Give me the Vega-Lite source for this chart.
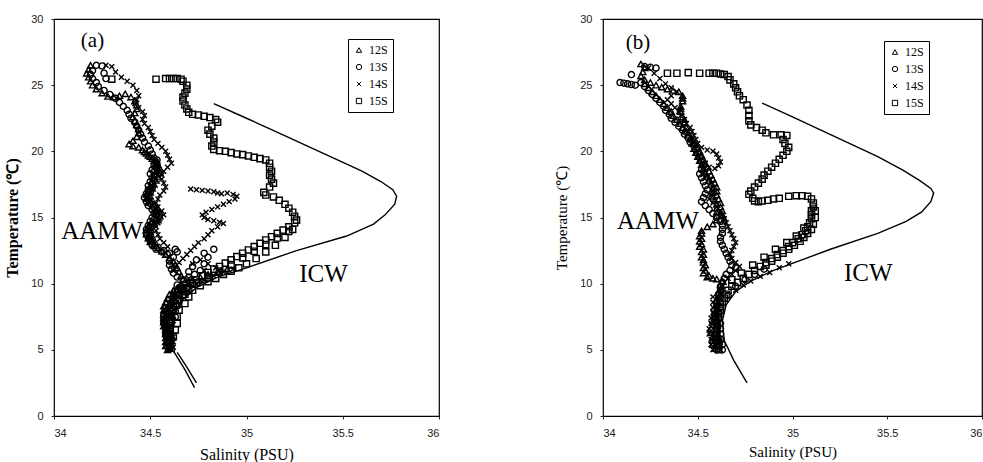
{
"$schema": "https://vega.github.io/schema/vega-lite/v6.json",
"background": "white",
"padding": {"left": 4, "top": 12, "right": 0, "bottom": 0},
"config": {
 "view": {"stroke": "#000", "strokeWidth": 1.2},
 "axis": {"grid": false, "domain": false, "tickSize": 3, "tickColor": "#222", "labelFont": "Liberation Sans", "labelFontSize": 11, "labelColor": "#222", "titleFont": "Liberation Serif", "titleFontSize": 15, "titleColor": "#000", "titleFontWeight": "normal"},
 "legend": {"title": null, "orient": "none", "strokeColor": "#000", "fillColor": "white", "padding": 5, "rowPadding": 5, "labelOffset": 4, "labelFont": "Liberation Serif", "labelFontSize": 12, "labelColor": "#000", "symbolStrokeWidth": 1, "symbolStrokeColor": "#000", "symbolSize": 28}
},
"datasets": {
 "icw": [
  {"p":"a","g":"1","i":0,"x":34.83,"y":23.6},{"p":"a","g":"1","i":1,"x":35.0,"y":22.5},{"p":"a","g":"1","i":2,"x":35.15,"y":21.5},{"p":"a","g":"1","i":3,"x":35.3,"y":20.5},{"p":"a","g":"1","i":4,"x":35.45,"y":19.5},{"p":"a","g":"1","i":5,"x":35.6,"y":18.5},{"p":"a","g":"1","i":6,"x":35.7,"y":17.7},{"p":"a","g":"1","i":7,"x":35.76,"y":17.1},{"p":"a","g":"1","i":8,"x":35.78,"y":16.6},{"p":"a","g":"1","i":9,"x":35.77,"y":16.0},{"p":"a","g":"1","i":10,"x":35.72,"y":15.2},{"p":"a","g":"1","i":11,"x":35.66,"y":14.5},{"p":"a","g":"1","i":12,"x":35.52,"y":13.6},{"p":"a","g":"1","i":13,"x":35.26,"y":12.5},{"p":"a","g":"1","i":14,"x":35.0,"y":11.2},{"p":"a","g":"1","i":15,"x":34.85,"y":10.5},{"p":"a","g":"1","i":16,"x":34.74,"y":9.7},{"p":"a","g":"1","i":17,"x":34.67,"y":8.8},{"p":"a","g":"1","i":18,"x":34.62,"y":7.6},{"p":"a","g":"1","i":19,"x":34.62,"y":6.2},{"p":"a","g":"1","i":20,"x":34.625,"y":4.8},{"p":"a","g":"1","i":21,"x":34.68,"y":3.5},{"p":"a","g":"1","i":22,"x":34.73,"y":2.15},
  {"p":"a","g":"2","i":0,"x":34.64,"y":4.8},{"p":"a","g":"2","i":1,"x":34.69,"y":3.7},{"p":"a","g":"2","i":2,"x":34.74,"y":2.5},
  {"p":"b","g":"1","i":0,"x":34.84,"y":23.65},{"p":"b","g":"1","i":1,"x":35.0,"y":22.6},{"p":"b","g":"1","i":2,"x":35.15,"y":21.6},{"p":"b","g":"1","i":3,"x":35.3,"y":20.6},{"p":"b","g":"1","i":4,"x":35.45,"y":19.6},{"p":"b","g":"1","i":5,"x":35.58,"y":18.6},{"p":"b","g":"1","i":6,"x":35.67,"y":17.8},{"p":"b","g":"1","i":7,"x":35.73,"y":17.2},{"p":"b","g":"1","i":8,"x":35.745,"y":16.85},{"p":"b","g":"1","i":9,"x":35.73,"y":16.2},{"p":"b","g":"1","i":10,"x":35.68,"y":15.4},{"p":"b","g":"1","i":11,"x":35.6,"y":14.7},{"p":"b","g":"1","i":12,"x":35.45,"y":13.8},{"p":"b","g":"1","i":13,"x":35.2,"y":12.6},{"p":"b","g":"1","i":14,"x":34.9,"y":11.0},{"p":"b","g":"1","i":15,"x":34.78,"y":10.2},{"p":"b","g":"1","i":16,"x":34.7,"y":9.4},{"p":"b","g":"1","i":17,"x":34.65,"y":8.4},{"p":"b","g":"1","i":18,"x":34.63,"y":7.2},{"p":"b","g":"1","i":19,"x":34.64,"y":5.7},{"p":"b","g":"1","i":20,"x":34.69,"y":4.2},{"p":"b","g":"1","i":21,"x":34.76,"y":2.5}
 ],
 "lab": [
  {"p":"a","t":"(a)","x":34.2,"y":28.3},{"p":"a","t":"AAMW","x":34.25,"y":14.0},{"p":"a","t":"ICW","x":35.4,"y":10.7},
  {"p":"b","t":"(b)","x":34.185,"y":28.2},{"p":"b","t":"AAMW","x":34.29,"y":14.7},{"p":"b","t":"ICW","x":35.4,"y":10.8}
 ],
 "pts": [
  {"p":"a","s":"15S","x":34.30,"y":25.45},{"p":"a","s":"15S","x":34.53,"y":25.45},{"p":"a","s":"15S","x":34.58,"y":25.5},{"p":"a","s":"15S","x":34.60,"y":25.5},{"p":"a","s":"15S","x":34.62,"y":25.5},{"p":"a","s":"15S","x":34.64,"y":25.5},{"p":"a","s":"15S","x":34.66,"y":25.45},{"p":"a","s":"15S","x":34.67,"y":25.3},{"p":"a","s":"15S","x":34.69,"y":25.0},{"p":"a","s":"15S","x":34.69,"y":24.7},{"p":"a","s":"15S","x":34.68,"y":24.4},{"p":"a","s":"15S","x":34.67,"y":24.1},{"p":"a","s":"15S","x":34.67,"y":23.8},{"p":"a","s":"15S","x":34.68,"y":23.5},{"p":"a","s":"15S","x":34.69,"y":23.2},{"p":"a","s":"15S","x":34.70,"y":22.95},{"p":"a","s":"15S","x":34.72,"y":22.8},{"p":"a","s":"15S","x":34.75,"y":22.75},{"p":"a","s":"15S","x":34.78,"y":22.65},{"p":"a","s":"15S","x":34.81,"y":22.55},{"p":"a","s":"15S","x":34.84,"y":22.4},{"p":"a","s":"15S","x":34.85,"y":22.2},{"p":"a","s":"15S","x":34.82,"y":21.9},{"p":"a","s":"15S","x":34.80,"y":21.6},{"p":"a","s":"15S","x":34.81,"y":21.3},{"p":"a","s":"15S","x":34.83,"y":21.0},{"p":"a","s":"15S","x":34.83,"y":20.7},{"p":"a","s":"15S","x":34.82,"y":20.4},{"p":"a","s":"15S","x":34.83,"y":20.15},{"p":"a","s":"15S","x":34.86,"y":20.05},{"p":"a","s":"15S","x":34.89,"y":20.0},{"p":"a","s":"15S","x":34.92,"y":19.9},{"p":"a","s":"15S","x":34.95,"y":19.8},{"p":"a","s":"15S","x":34.98,"y":19.75},{"p":"a","s":"15S","x":35.01,"y":19.65},{"p":"a","s":"15S","x":35.04,"y":19.55},{"p":"a","s":"15S","x":35.07,"y":19.45},{"p":"a","s":"15S","x":35.10,"y":19.35},{"p":"a","s":"15S","x":35.12,"y":19.1},{"p":"a","s":"15S","x":35.12,"y":18.8},{"p":"a","s":"15S","x":35.13,"y":18.5},{"p":"a","s":"15S","x":35.12,"y":18.2},{"p":"a","s":"15S","x":35.13,"y":17.9},{"p":"a","s":"15S","x":35.14,"y":17.6},{"p":"a","s":"15S","x":35.12,"y":17.3},{"p":"a","s":"15S","x":35.09,"y":16.9},{"p":"a","s":"15S","x":35.10,"y":16.7},{"p":"a","s":"15S","x":35.14,"y":16.55},{"p":"a","s":"15S","x":35.17,"y":16.3},{"p":"a","s":"15S","x":35.20,"y":16.0},{"p":"a","s":"15S","x":35.22,"y":15.7},{"p":"a","s":"15S","x":35.24,"y":15.4},{"p":"a","s":"15S","x":35.25,"y":15.1},{"p":"a","s":"15S","x":35.26,"y":14.8},{"p":"a","s":"15S","x":35.25,"y":14.6},{"p":"a","s":"15S","x":35.22,"y":14.3},{"p":"a","s":"15S","x":35.19,"y":14.05},{"p":"a","s":"15S","x":35.16,"y":13.8},{"p":"a","s":"15S","x":35.13,"y":13.55},{"p":"a","s":"15S","x":35.10,"y":13.3},{"p":"a","s":"15S","x":35.07,"y":13.05},{"p":"a","s":"15S","x":35.04,"y":12.8},{"p":"a","s":"15S","x":35.01,"y":12.55},{"p":"a","s":"15S","x":34.98,"y":12.3},{"p":"a","s":"15S","x":34.95,"y":12.05},{"p":"a","s":"15S","x":34.92,"y":11.8},{"p":"a","s":"15S","x":34.89,"y":11.55},{"p":"a","s":"15S","x":34.86,"y":11.3},{"p":"a","s":"15S","x":34.83,"y":11.1},{"p":"a","s":"15S","x":34.80,"y":10.85},{"p":"a","s":"15S","x":34.77,"y":10.6},{"p":"a","s":"15S","x":34.74,"y":10.3},{"p":"a","s":"15S","x":34.71,"y":10.0},{"p":"a","s":"15S","x":34.69,"y":9.7},{"p":"a","s":"15S","x":34.67,"y":9.4},{"p":"a","s":"15S","x":34.65,"y":9.1},{"p":"a","s":"15S","x":34.64,"y":8.8},{"p":"a","s":"15S","x":34.63,"y":8.5},{"p":"a","s":"15S","x":34.62,"y":8.2},{"p":"a","s":"15S","x":34.61,"y":7.9},{"p":"a","s":"15S","x":34.61,"y":7.6},{"p":"a","s":"15S","x":34.60,"y":7.3},{"p":"a","s":"15S","x":34.60,"y":7.0},{"p":"a","s":"15S","x":34.60,"y":6.7},{"p":"a","s":"15S","x":34.60,"y":6.4},{"p":"a","s":"15S","x":34.60,"y":6.1},{"p":"a","s":"15S","x":34.60,"y":5.8},{"p":"a","s":"15S","x":34.60,"y":5.5},{"p":"a","s":"15S","x":34.60,"y":5.2},
  {"p":"a","s":"15S","x":35.22,"y":13.95},{"p":"a","s":"15S","x":35.16,"y":13.45},{"p":"a","s":"15S","x":35.10,"y":12.95},{"p":"a","s":"15S","x":35.04,"y":12.45},{"p":"a","s":"15S","x":34.98,"y":11.95},{"p":"a","s":"15S","x":34.92,"y":11.45},{"p":"a","s":"15S","x":34.86,"y":10.95},{"p":"a","s":"15S","x":34.80,"y":10.5},{"p":"a","s":"15S","x":34.74,"y":10.05},{"p":"a","s":"15S","x":34.70,"y":9.6},{"p":"a","s":"15S","x":34.64,"y":7.0},{"p":"a","s":"15S","x":34.64,"y":7.5},{"p":"a","s":"15S","x":34.63,"y":6.5},{"p":"a","s":"15S","x":34.62,"y":6.0},{"p":"a","s":"15S","x":34.65,"y":8.0},{"p":"a","s":"15S","x":34.68,"y":8.5},{"p":"a","s":"15S","x":34.70,"y":9.0},{"p":"a","s":"15S","x":34.66,"y":9.6},
  {"p":"a","s":"15S","x":34.68,"y":9.2},{"p":"a","s":"15S","x":34.72,"y":9.5},{"p":"a","s":"15S","x":34.76,"y":9.85},{"p":"a","s":"15S","x":34.80,"y":10.15},{"p":"a","s":"15S","x":34.84,"y":10.4},{"p":"a","s":"15S","x":34.88,"y":10.7},{"p":"a","s":"15S","x":34.92,"y":10.95},{"p":"a","s":"15S","x":34.96,"y":11.2},{"p":"a","s":"15S","x":35.00,"y":11.5},{"p":"a","s":"15S","x":35.05,"y":11.9},{"p":"a","s":"15S","x":35.10,"y":12.4},{"p":"a","s":"15S","x":35.15,"y":12.9},{"p":"a","s":"15S","x":35.20,"y":13.5},{"p":"a","s":"15S","x":35.24,"y":14.1},

  {"p":"a","s":"12S","x":34.19,"y":26.5},{"p":"a","s":"12S","x":34.18,"y":26.2},{"p":"a","s":"12S","x":34.17,"y":25.9},{"p":"a","s":"12S","x":34.18,"y":25.6},{"p":"a","s":"12S","x":34.19,"y":25.3},{"p":"a","s":"12S","x":34.20,"y":25.0},{"p":"a","s":"12S","x":34.22,"y":24.7},{"p":"a","s":"12S","x":34.25,"y":24.4},{"p":"a","s":"12S","x":34.28,"y":24.15},{"p":"a","s":"12S","x":34.31,"y":24.1},{"p":"a","s":"12S","x":34.34,"y":24.2},{"p":"a","s":"12S","x":34.37,"y":24.35},{"p":"a","s":"12S","x":34.40,"y":24.1},{"p":"a","s":"12S","x":34.42,"y":23.8},{"p":"a","s":"12S","x":34.43,"y":23.5},{"p":"a","s":"12S","x":34.43,"y":23.2},{"p":"a","s":"12S","x":34.42,"y":22.9},{"p":"a","s":"12S","x":34.41,"y":22.6},{"p":"a","s":"12S","x":34.42,"y":22.3},{"p":"a","s":"12S","x":34.43,"y":22.0},{"p":"a","s":"12S","x":34.44,"y":21.7},{"p":"a","s":"12S","x":34.44,"y":21.4},{"p":"a","s":"12S","x":34.43,"y":21.1},{"p":"a","s":"12S","x":34.41,"y":20.8},{"p":"a","s":"12S","x":34.39,"y":20.55},{"p":"a","s":"12S","x":34.41,"y":20.4},{"p":"a","s":"12S","x":34.44,"y":20.3},{"p":"a","s":"12S","x":34.46,"y":20.1},{"p":"a","s":"12S","x":34.48,"y":19.85},{"p":"a","s":"12S","x":34.50,"y":19.6},{"p":"a","s":"12S","x":34.52,"y":19.3},{"p":"a","s":"12S","x":34.54,"y":19.0},{"p":"a","s":"12S","x":34.55,"y":18.7},{"p":"a","s":"12S","x":34.55,"y":18.4},{"p":"a","s":"12S","x":34.54,"y":18.1},{"p":"a","s":"12S","x":34.53,"y":17.8},{"p":"a","s":"12S","x":34.52,"y":17.5},{"p":"a","s":"12S","x":34.51,"y":17.2},{"p":"a","s":"12S","x":34.50,"y":16.9},{"p":"a","s":"12S","x":34.50,"y":16.6},{"p":"a","s":"12S","x":34.50,"y":16.3},{"p":"a","s":"12S","x":34.52,"y":16.0},{"p":"a","s":"12S","x":34.54,"y":15.7},{"p":"a","s":"12S","x":34.55,"y":15.4},{"p":"a","s":"12S","x":34.55,"y":15.1},{"p":"a","s":"12S","x":34.54,"y":14.8},{"p":"a","s":"12S","x":34.52,"y":14.5},{"p":"a","s":"12S","x":34.50,"y":14.2},{"p":"a","s":"12S","x":34.50,"y":13.9},{"p":"a","s":"12S","x":34.50,"y":13.6},{"p":"a","s":"12S","x":34.51,"y":13.3},{"p":"a","s":"12S","x":34.52,"y":13.0},{"p":"a","s":"12S","x":34.54,"y":12.7},{"p":"a","s":"12S","x":34.56,"y":12.45},{"p":"a","s":"12S","x":34.58,"y":12.2},{"p":"a","s":"12S","x":34.60,"y":11.95},{"p":"a","s":"12S","x":34.62,"y":11.7},{"p":"a","s":"12S","x":34.63,"y":11.45},{"p":"a","s":"12S","x":34.64,"y":11.2},{"p":"a","s":"12S","x":34.65,"y":10.9},{"p":"a","s":"12S","x":34.66,"y":10.6},{"p":"a","s":"12S","x":34.67,"y":10.3},{"p":"a","s":"12S","x":34.70,"y":10.1},{"p":"a","s":"12S","x":34.66,"y":9.9},{"p":"a","s":"12S","x":34.64,"y":9.6},{"p":"a","s":"12S","x":34.63,"y":9.3},{"p":"a","s":"12S","x":34.62,"y":9.0},{"p":"a","s":"12S","x":34.61,"y":8.7},{"p":"a","s":"12S","x":34.60,"y":8.4},{"p":"a","s":"12S","x":34.59,"y":8.1},{"p":"a","s":"12S","x":34.59,"y":7.8},{"p":"a","s":"12S","x":34.58,"y":7.5},{"p":"a","s":"12S","x":34.58,"y":7.2},{"p":"a","s":"12S","x":34.58,"y":6.9},{"p":"a","s":"12S","x":34.59,"y":6.6},{"p":"a","s":"12S","x":34.59,"y":6.3},{"p":"a","s":"12S","x":34.59,"y":6.0},{"p":"a","s":"12S","x":34.60,"y":5.7},{"p":"a","s":"12S","x":34.60,"y":5.4},{"p":"a","s":"12S","x":34.60,"y":5.1},{"p":"a","s":"12S","x":34.72,"y":10.3},{"p":"a","s":"12S","x":34.76,"y":10.5},{"p":"a","s":"12S","x":34.80,"y":10.7},{"p":"a","s":"12S","x":34.85,"y":10.9},{"p":"a","s":"12S","x":34.90,"y":11.1},
  {"p":"a","s":"12S","x":34.47,"y":19.95},{"p":"a","s":"12S","x":34.49,"y":19.7},{"p":"a","s":"12S","x":34.51,"y":19.45},{"p":"a","s":"12S","x":34.53,"y":19.15},{"p":"a","s":"12S","x":34.535,"y":18.85},{"p":"a","s":"12S","x":34.535,"y":18.55},{"p":"a","s":"12S","x":34.53,"y":18.25},{"p":"a","s":"12S","x":34.52,"y":17.95},{"p":"a","s":"12S","x":34.51,"y":17.65},{"p":"a","s":"12S","x":34.50,"y":17.35},{"p":"a","s":"12S","x":34.49,"y":17.05},{"p":"a","s":"12S","x":34.48,"y":16.75},{"p":"a","s":"12S","x":34.48,"y":16.45},{"p":"a","s":"12S","x":34.49,"y":16.15},{"p":"a","s":"12S","x":34.51,"y":15.85},{"p":"a","s":"12S","x":34.53,"y":15.55},{"p":"a","s":"12S","x":34.535,"y":15.25},{"p":"a","s":"12S","x":34.53,"y":14.95},{"p":"a","s":"12S","x":34.51,"y":14.65},{"p":"a","s":"12S","x":34.49,"y":14.35},{"p":"a","s":"12S","x":34.48,"y":14.05},{"p":"a","s":"12S","x":34.48,"y":13.75},{"p":"a","s":"12S","x":34.49,"y":13.45},{"p":"a","s":"12S","x":34.50,"y":13.15},{"p":"a","s":"12S","x":34.52,"y":12.85},
  {"p":"a","s":"12S","x":34.62,"y":9.5},{"p":"a","s":"12S","x":34.60,"y":9.2},{"p":"a","s":"12S","x":34.59,"y":8.9},{"p":"a","s":"12S","x":34.58,"y":8.6},{"p":"a","s":"12S","x":34.57,"y":8.3},{"p":"a","s":"12S","x":34.57,"y":8.0},{"p":"a","s":"12S","x":34.57,"y":7.7},{"p":"a","s":"12S","x":34.57,"y":7.4},{"p":"a","s":"12S","x":34.57,"y":7.1},{"p":"a","s":"12S","x":34.57,"y":6.8},{"p":"a","s":"12S","x":34.58,"y":6.5},{"p":"a","s":"12S","x":34.58,"y":6.2},{"p":"a","s":"12S","x":34.58,"y":5.9},{"p":"a","s":"12S","x":34.58,"y":5.6},{"p":"a","s":"12S","x":34.58,"y":5.3},{"p":"a","s":"12S","x":34.59,"y":5.0},

  {"p":"a","s":"13S","x":34.22,"y":26.5},{"p":"a","s":"13S","x":34.25,"y":26.45},{"p":"a","s":"13S","x":34.20,"y":26.1},{"p":"a","s":"13S","x":34.19,"y":25.8},{"p":"a","s":"13S","x":34.20,"y":25.5},{"p":"a","s":"13S","x":34.22,"y":25.2},{"p":"a","s":"13S","x":34.23,"y":24.9},{"p":"a","s":"13S","x":34.26,"y":24.6},{"p":"a","s":"13S","x":34.29,"y":24.3},{"p":"a","s":"13S","x":34.32,"y":24.0},{"p":"a","s":"13S","x":34.34,"y":23.7},{"p":"a","s":"13S","x":34.36,"y":23.4},{"p":"a","s":"13S","x":34.38,"y":23.1},{"p":"a","s":"13S","x":34.39,"y":22.8},{"p":"a","s":"13S","x":34.40,"y":22.5},{"p":"a","s":"13S","x":34.42,"y":22.2},{"p":"a","s":"13S","x":34.43,"y":21.9},{"p":"a","s":"13S","x":34.44,"y":21.6},{"p":"a","s":"13S","x":34.45,"y":21.3},{"p":"a","s":"13S","x":34.46,"y":21.0},{"p":"a","s":"13S","x":34.47,"y":20.7},{"p":"a","s":"13S","x":34.49,"y":20.4},{"p":"a","s":"13S","x":34.50,"y":20.1},{"p":"a","s":"13S","x":34.51,"y":19.8},{"p":"a","s":"13S","x":34.52,"y":19.5},{"p":"a","s":"13S","x":34.53,"y":19.2},{"p":"a","s":"13S","x":34.52,"y":18.9},{"p":"a","s":"13S","x":34.51,"y":18.6},{"p":"a","s":"13S","x":34.50,"y":18.3},{"p":"a","s":"13S","x":34.51,"y":18.0},{"p":"a","s":"13S","x":34.50,"y":17.7},{"p":"a","s":"13S","x":34.49,"y":17.4},{"p":"a","s":"13S","x":34.49,"y":17.1},{"p":"a","s":"13S","x":34.48,"y":16.8},{"p":"a","s":"13S","x":34.47,"y":16.5},{"p":"a","s":"13S","x":34.48,"y":16.2},{"p":"a","s":"13S","x":34.49,"y":15.9},{"p":"a","s":"13S","x":34.51,"y":15.6},{"p":"a","s":"13S","x":34.52,"y":15.3},{"p":"a","s":"13S","x":34.51,"y":15.0},{"p":"a","s":"13S","x":34.50,"y":14.7},{"p":"a","s":"13S","x":34.49,"y":14.4},{"p":"a","s":"13S","x":34.48,"y":14.1},{"p":"a","s":"13S","x":34.48,"y":13.8},{"p":"a","s":"13S","x":34.49,"y":13.5},{"p":"a","s":"13S","x":34.50,"y":13.2},{"p":"a","s":"13S","x":34.51,"y":12.9},{"p":"a","s":"13S","x":34.53,"y":12.6},{"p":"a","s":"13S","x":34.56,"y":12.4},{"p":"a","s":"13S","x":34.59,"y":12.2},{"p":"a","s":"13S","x":34.63,"y":12.6},{"p":"a","s":"13S","x":34.64,"y":12.4},{"p":"a","s":"13S","x":34.62,"y":12.0},{"p":"a","s":"13S","x":34.60,"y":11.7},{"p":"a","s":"13S","x":34.60,"y":11.4},{"p":"a","s":"13S","x":34.61,"y":11.1},{"p":"a","s":"13S","x":34.62,"y":10.8},{"p":"a","s":"13S","x":34.64,"y":10.5},{"p":"a","s":"13S","x":34.67,"y":10.3},{"p":"a","s":"13S","x":34.70,"y":10.5},{"p":"a","s":"13S","x":34.73,"y":10.7},{"p":"a","s":"13S","x":34.76,"y":11.0},{"p":"a","s":"13S","x":34.78,"y":11.5},{"p":"a","s":"13S","x":34.80,"y":12.0},{"p":"a","s":"13S","x":34.83,"y":12.6},{"p":"a","s":"13S","x":34.78,"y":12.3},{"p":"a","s":"13S","x":34.74,"y":11.8},{"p":"a","s":"13S","x":34.72,"y":11.3},{"p":"a","s":"13S","x":34.70,"y":10.9},{"p":"a","s":"13S","x":34.68,"y":10.0},{"p":"a","s":"13S","x":34.65,"y":9.7},{"p":"a","s":"13S","x":34.63,"y":9.4},{"p":"a","s":"13S","x":34.62,"y":9.1},{"p":"a","s":"13S","x":34.60,"y":8.8},{"p":"a","s":"13S","x":34.59,"y":8.5},{"p":"a","s":"13S","x":34.58,"y":8.2},{"p":"a","s":"13S","x":34.58,"y":7.9},{"p":"a","s":"13S","x":34.57,"y":7.6},{"p":"a","s":"13S","x":34.57,"y":7.3},{"p":"a","s":"13S","x":34.57,"y":7.0},{"p":"a","s":"13S","x":34.58,"y":6.7},{"p":"a","s":"13S","x":34.58,"y":6.4},{"p":"a","s":"13S","x":34.58,"y":6.1},{"p":"a","s":"13S","x":34.59,"y":5.8},{"p":"a","s":"13S","x":34.59,"y":5.5},{"p":"a","s":"13S","x":34.59,"y":5.2},{"p":"a","s":"13S","x":34.26,"y":25.9},{"p":"a","s":"13S","x":34.27,"y":25.5},{"p":"a","s":"13S","x":34.70,"y":9.8},{"p":"a","s":"13S","x":34.75,"y":10.1},{"p":"a","s":"13S","x":34.80,"y":10.4},
  {"p":"a","s":"13S","x":34.535,"y":19.35},{"p":"a","s":"13S","x":34.535,"y":19.05},{"p":"a","s":"13S","x":34.53,"y":18.75},{"p":"a","s":"13S","x":34.52,"y":18.45},{"p":"a","s":"13S","x":34.52,"y":18.15},{"p":"a","s":"13S","x":34.52,"y":17.85},{"p":"a","s":"13S","x":34.51,"y":17.55},{"p":"a","s":"13S","x":34.51,"y":17.25},{"p":"a","s":"13S","x":34.50,"y":16.95},{"p":"a","s":"13S","x":34.49,"y":16.65},{"p":"a","s":"13S","x":34.49,"y":16.35},{"p":"a","s":"13S","x":34.50,"y":16.05},{"p":"a","s":"13S","x":34.52,"y":15.75},{"p":"a","s":"13S","x":34.53,"y":15.45},{"p":"a","s":"13S","x":34.53,"y":15.15},{"p":"a","s":"13S","x":34.52,"y":14.85},{"p":"a","s":"13S","x":34.51,"y":14.55},{"p":"a","s":"13S","x":34.50,"y":14.25},{"p":"a","s":"13S","x":34.50,"y":13.95},{"p":"a","s":"13S","x":34.50,"y":13.65},{"p":"a","s":"13S","x":34.51,"y":13.35},{"p":"a","s":"13S","x":34.52,"y":13.05},{"p":"a","s":"13S","x":34.54,"y":12.75},{"p":"a","s":"13S","x":34.57,"y":12.5},{"p":"a","s":"13S","x":34.60,"y":12.3},
  {"p":"a","s":"13S","x":34.64,"y":9.9},{"p":"a","s":"13S","x":34.66,"y":9.5},{"p":"a","s":"13S","x":34.67,"y":9.1},{"p":"a","s":"13S","x":34.65,"y":8.7},{"p":"a","s":"13S","x":34.64,"y":8.3},{"p":"a","s":"13S","x":34.63,"y":7.9},{"p":"a","s":"13S","x":34.63,"y":7.5},

  {"p":"a","s":"14S","x":34.27,"y":26.5},{"p":"a","s":"14S","x":34.30,"y":26.4},{"p":"a","s":"14S","x":34.32,"y":26.0},{"p":"a","s":"14S","x":34.35,"y":25.6},{"p":"a","s":"14S","x":34.38,"y":25.3},{"p":"a","s":"14S","x":34.41,"y":25.0},{"p":"a","s":"14S","x":34.43,"y":24.6},{"p":"a","s":"14S","x":34.44,"y":24.2},{"p":"a","s":"14S","x":34.43,"y":23.9},{"p":"a","s":"14S","x":34.42,"y":23.6},{"p":"a","s":"14S","x":34.44,"y":23.3},{"p":"a","s":"14S","x":34.46,"y":23.0},{"p":"a","s":"14S","x":34.47,"y":22.7},{"p":"a","s":"14S","x":34.46,"y":22.4},{"p":"a","s":"14S","x":34.47,"y":22.1},{"p":"a","s":"14S","x":34.49,"y":21.8},{"p":"a","s":"14S","x":34.50,"y":21.5},{"p":"a","s":"14S","x":34.51,"y":21.2},{"p":"a","s":"14S","x":34.52,"y":20.9},{"p":"a","s":"14S","x":34.54,"y":20.6},{"p":"a","s":"14S","x":34.56,"y":20.3},{"p":"a","s":"14S","x":34.58,"y":20.0},{"p":"a","s":"14S","x":34.59,"y":19.7},{"p":"a","s":"14S","x":34.60,"y":19.4},{"p":"a","s":"14S","x":34.61,"y":19.1},{"p":"a","s":"14S","x":34.59,"y":18.8},{"p":"a","s":"14S","x":34.57,"y":18.5},{"p":"a","s":"14S","x":34.56,"y":18.2},{"p":"a","s":"14S","x":34.56,"y":17.9},{"p":"a","s":"14S","x":34.57,"y":17.6},{"p":"a","s":"14S","x":34.58,"y":17.3},{"p":"a","s":"14S","x":34.57,"y":17.0},{"p":"a","s":"14S","x":34.55,"y":16.7},{"p":"a","s":"14S","x":34.54,"y":16.4},{"p":"a","s":"14S","x":34.53,"y":16.1},{"p":"a","s":"14S","x":34.54,"y":15.8},{"p":"a","s":"14S","x":34.56,"y":15.5},{"p":"a","s":"14S","x":34.57,"y":15.2},{"p":"a","s":"14S","x":34.55,"y":14.9},{"p":"a","s":"14S","x":34.54,"y":14.6},{"p":"a","s":"14S","x":34.53,"y":14.3},{"p":"a","s":"14S","x":34.53,"y":14.0},{"p":"a","s":"14S","x":34.54,"y":13.7},{"p":"a","s":"14S","x":34.55,"y":13.4},{"p":"a","s":"14S","x":34.57,"y":13.1},{"p":"a","s":"14S","x":34.59,"y":12.8},
  {"p":"a","s":"14S","x":34.71,"y":17.15},{"p":"a","s":"14S","x":34.74,"y":17.1},{"p":"a","s":"14S","x":34.77,"y":17.05},{"p":"a","s":"14S","x":34.80,"y":17.0},{"p":"a","s":"14S","x":34.83,"y":16.95},{"p":"a","s":"14S","x":34.85,"y":16.85},{"p":"a","s":"14S","x":34.87,"y":16.8},{"p":"a","s":"14S","x":34.90,"y":16.85},{"p":"a","s":"14S","x":34.93,"y":16.75},{"p":"a","s":"14S","x":34.95,"y":16.6},{"p":"a","s":"14S","x":34.94,"y":16.4},{"p":"a","s":"14S","x":34.91,"y":16.2},{"p":"a","s":"14S","x":34.88,"y":16.0},{"p":"a","s":"14S","x":34.85,"y":15.8},{"p":"a","s":"14S","x":34.82,"y":15.6},{"p":"a","s":"14S","x":34.79,"y":15.4},{"p":"a","s":"14S","x":34.77,"y":15.2},{"p":"a","s":"14S","x":34.78,"y":15.0},{"p":"a","s":"14S","x":34.80,"y":14.85},{"p":"a","s":"14S","x":34.83,"y":14.75},{"p":"a","s":"14S","x":34.86,"y":14.65},{"p":"a","s":"14S","x":34.88,"y":14.55},{"p":"a","s":"14S","x":34.85,"y":14.3},{"p":"a","s":"14S","x":34.82,"y":14.0},{"p":"a","s":"14S","x":34.80,"y":13.7},{"p":"a","s":"14S","x":34.78,"y":13.4},{"p":"a","s":"14S","x":34.75,"y":13.1},{"p":"a","s":"14S","x":34.73,"y":12.8},{"p":"a","s":"14S","x":34.71,"y":12.5},{"p":"a","s":"14S","x":34.69,"y":12.2},{"p":"a","s":"14S","x":34.67,"y":11.9},{"p":"a","s":"14S","x":34.65,"y":11.6},{"p":"a","s":"14S","x":34.63,"y":11.3},{"p":"a","s":"14S","x":34.62,"y":11.0},{"p":"a","s":"14S","x":34.76,"y":11.8},{"p":"a","s":"14S","x":34.80,"y":11.5},{"p":"a","s":"14S","x":34.84,"y":11.2},{"p":"a","s":"14S","x":34.78,"y":11.0},{"p":"a","s":"14S","x":34.86,"y":11.0},{"p":"a","s":"14S","x":34.72,"y":11.5},{"p":"a","s":"14S","x":34.70,"y":10.4},{"p":"a","s":"14S","x":34.73,"y":10.2},{"p":"a","s":"14S","x":34.68,"y":9.8},{"p":"a","s":"14S","x":34.66,"y":9.4},{"p":"a","s":"14S","x":34.64,"y":9.0},{"p":"a","s":"14S","x":34.62,"y":8.6},{"p":"a","s":"14S","x":34.61,"y":8.2},{"p":"a","s":"14S","x":34.60,"y":7.8},{"p":"a","s":"14S","x":34.60,"y":7.4},{"p":"a","s":"14S","x":34.59,"y":7.0},{"p":"a","s":"14S","x":34.59,"y":6.6},{"p":"a","s":"14S","x":34.60,"y":6.2},{"p":"a","s":"14S","x":34.60,"y":5.8},{"p":"a","s":"14S","x":34.61,"y":5.4},{"p":"a","s":"14S","x":34.61,"y":5.0},{"p":"a","s":"14S","x":34.74,"y":10.0},{"p":"a","s":"14S","x":34.78,"y":10.3},{"p":"a","s":"14S","x":34.83,"y":10.6},{"p":"a","s":"14S","x":34.88,"y":10.9},{"p":"a","s":"14S","x":34.93,"y":11.1},
  {"p":"a","s":"14S","x":34.63,"y":9.2},{"p":"a","s":"14S","x":34.63,"y":8.8},{"p":"a","s":"14S","x":34.62,"y":8.4},{"p":"a","s":"14S","x":34.62,"y":8.0},{"p":"a","s":"14S","x":34.62,"y":7.6},{"p":"a","s":"14S","x":34.62,"y":7.2},{"p":"a","s":"14S","x":34.61,"y":6.8},{"p":"a","s":"14S","x":34.61,"y":6.4},{"p":"a","s":"14S","x":34.62,"y":6.0},{"p":"a","s":"14S","x":34.62,"y":5.6},{"p":"a","s":"14S","x":34.62,"y":5.2},

  {"p":"b","s":"15S","x":34.34,"y":25.9},{"p":"b","s":"15S","x":34.39,"y":25.9},{"p":"b","s":"15S","x":34.45,"y":25.95},{"p":"b","s":"15S","x":34.51,"y":25.9},{"p":"b","s":"15S","x":34.56,"y":25.9},{"p":"b","s":"15S","x":34.58,"y":25.9},{"p":"b","s":"15S","x":34.60,"y":25.9},{"p":"b","s":"15S","x":34.62,"y":25.85},{"p":"b","s":"15S","x":34.64,"y":25.8},{"p":"b","s":"15S","x":34.66,"y":25.65},{"p":"b","s":"15S","x":34.67,"y":25.4},{"p":"b","s":"15S","x":34.69,"y":25.1},{"p":"b","s":"15S","x":34.70,"y":24.8},{"p":"b","s":"15S","x":34.71,"y":24.5},{"p":"b","s":"15S","x":34.72,"y":24.2},{"p":"b","s":"15S","x":34.74,"y":23.9},{"p":"b","s":"15S","x":34.76,"y":23.5},{"p":"b","s":"15S","x":34.77,"y":23.1},{"p":"b","s":"15S","x":34.77,"y":22.7},{"p":"b","s":"15S","x":34.77,"y":22.3},{"p":"b","s":"15S","x":34.78,"y":22.0},{"p":"b","s":"15S","x":34.81,"y":21.8},{"p":"b","s":"15S","x":34.84,"y":21.6},{"p":"b","s":"15S","x":34.86,"y":21.4},{"p":"b","s":"15S","x":34.90,"y":21.25},{"p":"b","s":"15S","x":34.94,"y":21.25},{"p":"b","s":"15S","x":34.97,"y":21.2},{"p":"b","s":"15S","x":34.95,"y":20.9},{"p":"b","s":"15S","x":34.96,"y":20.6},{"p":"b","s":"15S","x":34.98,"y":20.3},{"p":"b","s":"15S","x":34.97,"y":20.0},{"p":"b","s":"15S","x":34.95,"y":19.7},{"p":"b","s":"15S","x":34.93,"y":19.4},{"p":"b","s":"15S","x":34.91,"y":19.1},{"p":"b","s":"15S","x":34.89,"y":18.8},{"p":"b","s":"15S","x":34.87,"y":18.5},{"p":"b","s":"15S","x":34.85,"y":18.2},{"p":"b","s":"15S","x":34.84,"y":17.9},{"p":"b","s":"15S","x":34.82,"y":17.6},{"p":"b","s":"15S","x":34.80,"y":17.3},{"p":"b","s":"15S","x":34.78,"y":17.0},{"p":"b","s":"15S","x":34.77,"y":16.75},{"p":"b","s":"15S","x":34.79,"y":16.45},{"p":"b","s":"15S","x":34.80,"y":16.25},{"p":"b","s":"15S","x":34.82,"y":16.2},{"p":"b","s":"15S","x":34.84,"y":16.25},{"p":"b","s":"15S","x":34.87,"y":16.3},{"p":"b","s":"15S","x":34.90,"y":16.4},{"p":"b","s":"15S","x":34.93,"y":16.45},{"p":"b","s":"15S","x":34.98,"y":16.6},{"p":"b","s":"15S","x":35.02,"y":16.65},{"p":"b","s":"15S","x":35.05,"y":16.65},{"p":"b","s":"15S","x":35.08,"y":16.6},{"p":"b","s":"15S","x":35.10,"y":16.4},{"p":"b","s":"15S","x":35.11,"y":16.1},{"p":"b","s":"15S","x":35.11,"y":15.8},{"p":"b","s":"15S","x":35.10,"y":15.5},{"p":"b","s":"15S","x":35.10,"y":15.2},{"p":"b","s":"15S","x":35.10,"y":14.9},{"p":"b","s":"15S","x":35.09,"y":14.6},{"p":"b","s":"15S","x":35.08,"y":14.3},{"p":"b","s":"15S","x":35.07,"y":14.0},{"p":"b","s":"15S","x":35.05,"y":13.7},{"p":"b","s":"15S","x":35.03,"y":13.4},{"p":"b","s":"15S","x":35.00,"y":13.1},{"p":"b","s":"15S","x":34.98,"y":12.8},{"p":"b","s":"15S","x":34.95,"y":12.5},{"p":"b","s":"15S","x":34.92,"y":12.2},{"p":"b","s":"15S","x":34.89,"y":11.9},{"p":"b","s":"15S","x":34.86,"y":11.6},{"p":"b","s":"15S","x":34.83,"y":11.3},{"p":"b","s":"15S","x":34.80,"y":11.0},{"p":"b","s":"15S","x":34.77,"y":10.7},{"p":"b","s":"15S","x":34.74,"y":10.4},{"p":"b","s":"15S","x":34.71,"y":10.1},{"p":"b","s":"15S","x":34.68,"y":9.8},{"p":"b","s":"15S","x":34.66,"y":9.5},{"p":"b","s":"15S","x":34.65,"y":9.2},{"p":"b","s":"15S","x":34.64,"y":8.9},{"p":"b","s":"15S","x":34.63,"y":8.6},{"p":"b","s":"15S","x":34.62,"y":8.3},{"p":"b","s":"15S","x":34.62,"y":8.0},{"p":"b","s":"15S","x":34.61,"y":7.7},{"p":"b","s":"15S","x":34.61,"y":7.4},{"p":"b","s":"15S","x":34.60,"y":7.1},{"p":"b","s":"15S","x":34.60,"y":6.8},{"p":"b","s":"15S","x":34.60,"y":6.5},{"p":"b","s":"15S","x":34.60,"y":6.2},{"p":"b","s":"15S","x":34.60,"y":5.9},{"p":"b","s":"15S","x":34.61,"y":5.6},{"p":"b","s":"15S","x":34.61,"y":5.3},{"p":"b","s":"15S","x":34.61,"y":5.0},{"p":"b","s":"15S","x":35.06,"y":14.2},{"p":"b","s":"15S","x":35.02,"y":13.6},{"p":"b","s":"15S","x":34.97,"y":13.1},{"p":"b","s":"15S","x":34.91,"y":12.6},{"p":"b","s":"15S","x":34.85,"y":12.0},{"p":"b","s":"15S","x":34.79,"y":11.4},{"p":"b","s":"15S","x":34.73,"y":10.8},{"p":"b","s":"15S","x":34.68,"y":10.3},
  {"p":"b","s":"15S","x":35.12,"y":15.5},{"p":"b","s":"15S","x":35.12,"y":15.0},{"p":"b","s":"15S","x":35.11,"y":14.5},{"p":"b","s":"15S","x":35.10,"y":14.1},{"p":"b","s":"15S","x":35.08,"y":13.8},{"p":"b","s":"15S","x":35.06,"y":13.5},{"p":"b","s":"15S","x":35.04,"y":13.2},{"p":"b","s":"15S","x":35.01,"y":12.9},{"p":"b","s":"15S","x":34.98,"y":12.6},{"p":"b","s":"15S","x":34.95,"y":12.3},{"p":"b","s":"15S","x":34.92,"y":12.0},{"p":"b","s":"15S","x":34.89,"y":11.7},{"p":"b","s":"15S","x":34.86,"y":11.4},

  {"p":"b","s":"12S","x":34.20,"y":26.6},{"p":"b","s":"12S","x":34.22,"y":26.3},{"p":"b","s":"12S","x":34.21,"y":26.0},{"p":"b","s":"12S","x":34.20,"y":25.7},{"p":"b","s":"12S","x":34.22,"y":25.4},{"p":"b","s":"12S","x":34.25,"y":25.2},{"p":"b","s":"12S","x":34.28,"y":25.0},{"p":"b","s":"12S","x":34.31,"y":24.85},{"p":"b","s":"12S","x":34.34,"y":24.7},{"p":"b","s":"12S","x":34.37,"y":24.6},{"p":"b","s":"12S","x":34.40,"y":24.5},{"p":"b","s":"12S","x":34.42,"y":24.2},{"p":"b","s":"12S","x":34.42,"y":23.8},{"p":"b","s":"12S","x":34.41,"y":23.4},{"p":"b","s":"12S","x":34.41,"y":23.0},{"p":"b","s":"12S","x":34.42,"y":22.6},{"p":"b","s":"12S","x":34.43,"y":22.2},{"p":"b","s":"12S","x":34.44,"y":21.8},{"p":"b","s":"12S","x":34.45,"y":21.4},{"p":"b","s":"12S","x":34.46,"y":21.0},{"p":"b","s":"12S","x":34.47,"y":20.6},{"p":"b","s":"12S","x":34.48,"y":20.2},{"p":"b","s":"12S","x":34.49,"y":19.9},{"p":"b","s":"12S","x":34.50,"y":19.6},{"p":"b","s":"12S","x":34.51,"y":19.3},{"p":"b","s":"12S","x":34.52,"y":19.0},{"p":"b","s":"12S","x":34.53,"y":18.7},{"p":"b","s":"12S","x":34.54,"y":18.4},{"p":"b","s":"12S","x":34.55,"y":18.1},{"p":"b","s":"12S","x":34.56,"y":17.8},{"p":"b","s":"12S","x":34.57,"y":17.5},{"p":"b","s":"12S","x":34.58,"y":17.2},{"p":"b","s":"12S","x":34.58,"y":16.9},{"p":"b","s":"12S","x":34.58,"y":16.6},{"p":"b","s":"12S","x":34.59,"y":16.3},{"p":"b","s":"12S","x":34.60,"y":16.0},{"p":"b","s":"12S","x":34.60,"y":15.7},{"p":"b","s":"12S","x":34.60,"y":15.4},{"p":"b","s":"12S","x":34.60,"y":15.1},{"p":"b","s":"12S","x":34.60,"y":14.8},{"p":"b","s":"12S","x":34.58,"y":14.5},{"p":"b","s":"12S","x":34.55,"y":14.3},{"p":"b","s":"12S","x":34.52,"y":14.0},{"p":"b","s":"12S","x":34.51,"y":13.6},{"p":"b","s":"12S","x":34.51,"y":13.2},{"p":"b","s":"12S","x":34.51,"y":12.8},{"p":"b","s":"12S","x":34.52,"y":12.4},{"p":"b","s":"12S","x":34.52,"y":12.0},{"p":"b","s":"12S","x":34.53,"y":11.6},{"p":"b","s":"12S","x":34.53,"y":11.2},{"p":"b","s":"12S","x":34.53,"y":10.8},{"p":"b","s":"12S","x":34.55,"y":10.5},{"p":"b","s":"12S","x":34.58,"y":10.4},{"p":"b","s":"12S","x":34.60,"y":10.35},{"p":"b","s":"12S","x":34.63,"y":10.2},{"p":"b","s":"12S","x":34.62,"y":9.9},{"p":"b","s":"12S","x":34.62,"y":9.6},{"p":"b","s":"12S","x":34.61,"y":9.3},{"p":"b","s":"12S","x":34.61,"y":9.0},{"p":"b","s":"12S","x":34.60,"y":8.7},{"p":"b","s":"12S","x":34.60,"y":8.4},{"p":"b","s":"12S","x":34.60,"y":8.1},{"p":"b","s":"12S","x":34.59,"y":7.8},{"p":"b","s":"12S","x":34.59,"y":7.5},{"p":"b","s":"12S","x":34.58,"y":7.2},{"p":"b","s":"12S","x":34.58,"y":6.9},{"p":"b","s":"12S","x":34.57,"y":6.6},{"p":"b","s":"12S","x":34.57,"y":6.3},{"p":"b","s":"12S","x":34.58,"y":6.0},{"p":"b","s":"12S","x":34.58,"y":5.7},{"p":"b","s":"12S","x":34.58,"y":5.4},{"p":"b","s":"12S","x":34.59,"y":5.1},{"p":"b","s":"12S","x":34.52,"y":13.8},{"p":"b","s":"12S","x":34.52,"y":13.4},{"p":"b","s":"12S","x":34.52,"y":13.0},{"p":"b","s":"12S","x":34.53,"y":12.6},{"p":"b","s":"12S","x":34.53,"y":12.2},{"p":"b","s":"12S","x":34.53,"y":11.8},{"p":"b","s":"12S","x":34.54,"y":11.4},{"p":"b","s":"12S","x":34.54,"y":11.0},{"p":"b","s":"12S","x":34.56,"y":10.6},{"p":"b","s":"12S","x":34.42,"y":24.0},{"p":"b","s":"12S","x":34.41,"y":23.2},{"p":"b","s":"12S","x":34.43,"y":22.4},
  {"p":"b","s":"12S","x":34.22,"y":25.1},{"p":"b","s":"12S","x":34.24,"y":24.8},{"p":"b","s":"12S","x":34.26,"y":24.5},{"p":"b","s":"12S","x":34.28,"y":24.2},{"p":"b","s":"12S","x":34.30,"y":23.9},{"p":"b","s":"12S","x":34.32,"y":23.6},{"p":"b","s":"12S","x":34.34,"y":23.3},{"p":"b","s":"12S","x":34.36,"y":23.0},{"p":"b","s":"12S","x":34.37,"y":22.7},{"p":"b","s":"12S","x":34.39,"y":22.4},{"p":"b","s":"12S","x":34.41,"y":22.1},{"p":"b","s":"12S","x":34.42,"y":21.8},{"p":"b","s":"12S","x":34.44,"y":21.5},{"p":"b","s":"12S","x":34.45,"y":21.2},{"p":"b","s":"12S","x":34.47,"y":20.9},{"p":"b","s":"12S","x":34.48,"y":20.6},{"p":"b","s":"12S","x":34.50,"y":20.3},{"p":"b","s":"12S","x":34.51,"y":20.0},{"p":"b","s":"12S","x":34.52,"y":19.7},{"p":"b","s":"12S","x":34.53,"y":19.4},{"p":"b","s":"12S","x":34.54,"y":19.1},{"p":"b","s":"12S","x":34.55,"y":18.8},{"p":"b","s":"12S","x":34.56,"y":18.5},{"p":"b","s":"12S","x":34.57,"y":18.2},{"p":"b","s":"12S","x":34.58,"y":17.9},{"p":"b","s":"12S","x":34.59,"y":17.6},{"p":"b","s":"12S","x":34.60,"y":17.3},{"p":"b","s":"12S","x":34.60,"y":17.0},{"p":"b","s":"12S","x":34.60,"y":16.7},{"p":"b","s":"12S","x":34.61,"y":16.4},{"p":"b","s":"12S","x":34.62,"y":16.1},{"p":"b","s":"12S","x":34.62,"y":15.8},{"p":"b","s":"12S","x":34.63,"y":15.5},{"p":"b","s":"12S","x":34.63,"y":15.2},{"p":"b","s":"12S","x":34.64,"y":14.9},

  {"p":"b","s":"13S","x":34.09,"y":25.2},{"p":"b","s":"13S","x":34.11,"y":25.15},{"p":"b","s":"13S","x":34.13,"y":25.1},{"p":"b","s":"13S","x":34.15,"y":25.05},{"p":"b","s":"13S","x":34.17,"y":25.0},{"p":"b","s":"13S","x":34.15,"y":25.8},{"p":"b","s":"13S","x":34.22,"y":26.4},{"p":"b","s":"13S","x":34.25,"y":26.35},{"p":"b","s":"13S","x":34.28,"y":26.3},{"p":"b","s":"13S","x":34.20,"y":25.2},{"p":"b","s":"13S","x":34.22,"y":24.9},{"p":"b","s":"13S","x":34.24,"y":24.6},{"p":"b","s":"13S","x":34.26,"y":24.3},{"p":"b","s":"13S","x":34.28,"y":24.0},{"p":"b","s":"13S","x":34.30,"y":23.7},{"p":"b","s":"13S","x":34.32,"y":23.4},{"p":"b","s":"13S","x":34.33,"y":23.1},{"p":"b","s":"13S","x":34.35,"y":22.8},{"p":"b","s":"13S","x":34.36,"y":22.5},{"p":"b","s":"13S","x":34.38,"y":22.2},{"p":"b","s":"13S","x":34.40,"y":21.9},{"p":"b","s":"13S","x":34.42,"y":21.6},{"p":"b","s":"13S","x":34.43,"y":21.3},{"p":"b","s":"13S","x":34.45,"y":21.0},{"p":"b","s":"13S","x":34.46,"y":20.7},{"p":"b","s":"13S","x":34.48,"y":20.4},{"p":"b","s":"13S","x":34.49,"y":20.1},{"p":"b","s":"13S","x":34.50,"y":19.8},{"p":"b","s":"13S","x":34.51,"y":19.5},{"p":"b","s":"13S","x":34.52,"y":19.2},{"p":"b","s":"13S","x":34.53,"y":18.9},{"p":"b","s":"13S","x":34.52,"y":18.6},{"p":"b","s":"13S","x":34.51,"y":18.3},{"p":"b","s":"13S","x":34.52,"y":18.0},{"p":"b","s":"13S","x":34.53,"y":17.7},{"p":"b","s":"13S","x":34.54,"y":17.4},{"p":"b","s":"13S","x":34.55,"y":17.1},{"p":"b","s":"13S","x":34.54,"y":16.8},{"p":"b","s":"13S","x":34.53,"y":16.5},{"p":"b","s":"13S","x":34.52,"y":16.2},{"p":"b","s":"13S","x":34.54,"y":15.9},{"p":"b","s":"13S","x":34.56,"y":15.6},{"p":"b","s":"13S","x":34.58,"y":15.3},{"p":"b","s":"13S","x":34.60,"y":15.0},{"p":"b","s":"13S","x":34.62,"y":14.7},{"p":"b","s":"13S","x":34.63,"y":14.4},{"p":"b","s":"13S","x":34.63,"y":14.1},{"p":"b","s":"13S","x":34.63,"y":13.8},{"p":"b","s":"13S","x":34.62,"y":13.5},{"p":"b","s":"13S","x":34.62,"y":13.2},{"p":"b","s":"13S","x":34.63,"y":12.9},{"p":"b","s":"13S","x":34.64,"y":12.6},{"p":"b","s":"13S","x":34.65,"y":12.3},{"p":"b","s":"13S","x":34.66,"y":12.0},{"p":"b","s":"13S","x":34.67,"y":11.7},{"p":"b","s":"13S","x":34.68,"y":11.4},{"p":"b","s":"13S","x":34.70,"y":11.2},{"p":"b","s":"13S","x":34.67,"y":11.0},{"p":"b","s":"13S","x":34.65,"y":10.7},{"p":"b","s":"13S","x":34.64,"y":10.4},{"p":"b","s":"13S","x":34.63,"y":10.1},{"p":"b","s":"13S","x":34.62,"y":9.8},{"p":"b","s":"13S","x":34.62,"y":9.5},{"p":"b","s":"13S","x":34.61,"y":9.2},{"p":"b","s":"13S","x":34.61,"y":8.9},{"p":"b","s":"13S","x":34.60,"y":8.6},{"p":"b","s":"13S","x":34.60,"y":8.3},{"p":"b","s":"13S","x":34.59,"y":8.0},{"p":"b","s":"13S","x":34.59,"y":7.7},{"p":"b","s":"13S","x":34.59,"y":7.4},{"p":"b","s":"13S","x":34.60,"y":7.1},{"p":"b","s":"13S","x":34.60,"y":6.8},{"p":"b","s":"13S","x":34.60,"y":6.5},{"p":"b","s":"13S","x":34.59,"y":6.2},{"p":"b","s":"13S","x":34.60,"y":5.9},{"p":"b","s":"13S","x":34.60,"y":5.6},{"p":"b","s":"13S","x":34.60,"y":5.3},{"p":"b","s":"13S","x":34.60,"y":5.0},
  {"p":"b","s":"13S","x":34.62,"y":9.0},{"p":"b","s":"13S","x":34.62,"y":8.6},{"p":"b","s":"13S","x":34.62,"y":8.2},{"p":"b","s":"13S","x":34.61,"y":7.8},{"p":"b","s":"13S","x":34.61,"y":7.4},{"p":"b","s":"13S","x":34.62,"y":7.0},{"p":"b","s":"13S","x":34.62,"y":6.6},{"p":"b","s":"13S","x":34.62,"y":6.2},{"p":"b","s":"13S","x":34.62,"y":5.8},{"p":"b","s":"13S","x":34.63,"y":5.4},{"p":"b","s":"13S","x":34.63,"y":5.0},{"p":"b","s":"13S","x":34.66,"y":9.1},{"p":"b","s":"13S","x":34.70,"y":9.8},{"p":"b","s":"13S","x":34.75,"y":10.3},{"p":"b","s":"13S","x":34.80,"y":10.7},{"p":"b","s":"13S","x":34.85,"y":11.1},

  {"p":"b","s":"14S","x":34.24,"y":26.3},{"p":"b","s":"14S","x":34.27,"y":25.9},{"p":"b","s":"14S","x":34.30,"y":25.5},{"p":"b","s":"14S","x":34.33,"y":25.1},{"p":"b","s":"14S","x":34.36,"y":24.8},{"p":"b","s":"14S","x":34.39,"y":24.5},{"p":"b","s":"14S","x":34.36,"y":24.2},{"p":"b","s":"14S","x":34.34,"y":23.9},{"p":"b","s":"14S","x":34.36,"y":23.6},{"p":"b","s":"14S","x":34.38,"y":23.3},{"p":"b","s":"14S","x":34.40,"y":23.0},{"p":"b","s":"14S","x":34.41,"y":22.7},{"p":"b","s":"14S","x":34.43,"y":22.4},{"p":"b","s":"14S","x":34.44,"y":22.1},{"p":"b","s":"14S","x":34.46,"y":21.8},{"p":"b","s":"14S","x":34.47,"y":21.5},{"p":"b","s":"14S","x":34.48,"y":21.2},{"p":"b","s":"14S","x":34.49,"y":20.9},{"p":"b","s":"14S","x":34.50,"y":20.6},{"p":"b","s":"14S","x":34.52,"y":20.3},{"p":"b","s":"14S","x":34.55,"y":20.1},{"p":"b","s":"14S","x":34.58,"y":20.0},{"p":"b","s":"14S","x":34.60,"y":19.8},{"p":"b","s":"14S","x":34.61,"y":19.5},{"p":"b","s":"14S","x":34.62,"y":19.2},{"p":"b","s":"14S","x":34.61,"y":18.9},{"p":"b","s":"14S","x":34.59,"y":18.7},{"p":"b","s":"14S","x":34.56,"y":18.8},{"p":"b","s":"14S","x":34.54,"y":19.1},{"p":"b","s":"14S","x":34.53,"y":18.5},{"p":"b","s":"14S","x":34.54,"y":18.2},{"p":"b","s":"14S","x":34.56,"y":17.9},{"p":"b","s":"14S","x":34.57,"y":17.6},{"p":"b","s":"14S","x":34.58,"y":17.3},{"p":"b","s":"14S","x":34.58,"y":17.0},{"p":"b","s":"14S","x":34.57,"y":16.7},{"p":"b","s":"14S","x":34.56,"y":16.4},{"p":"b","s":"14S","x":34.58,"y":16.1},{"p":"b","s":"14S","x":34.60,"y":15.8},{"p":"b","s":"14S","x":34.62,"y":15.5},{"p":"b","s":"14S","x":34.63,"y":15.2},{"p":"b","s":"14S","x":34.64,"y":14.9},{"p":"b","s":"14S","x":34.65,"y":14.6},{"p":"b","s":"14S","x":34.66,"y":14.3},{"p":"b","s":"14S","x":34.67,"y":14.0},{"p":"b","s":"14S","x":34.68,"y":13.7},{"p":"b","s":"14S","x":34.69,"y":13.4},{"p":"b","s":"14S","x":34.70,"y":13.1},{"p":"b","s":"14S","x":34.69,"y":12.8},{"p":"b","s":"14S","x":34.68,"y":12.5},{"p":"b","s":"14S","x":34.67,"y":12.2},{"p":"b","s":"14S","x":34.68,"y":11.9},{"p":"b","s":"14S","x":34.70,"y":11.6},{"p":"b","s":"14S","x":34.72,"y":11.3},{"p":"b","s":"14S","x":34.70,"y":11.0},{"p":"b","s":"14S","x":34.68,"y":10.7},{"p":"b","s":"14S","x":34.66,"y":10.4},{"p":"b","s":"14S","x":34.64,"y":10.1},{"p":"b","s":"14S","x":34.63,"y":9.8},{"p":"b","s":"14S","x":34.62,"y":9.5},{"p":"b","s":"14S","x":34.62,"y":9.2},{"p":"b","s":"14S","x":34.61,"y":8.9},{"p":"b","s":"14S","x":34.61,"y":8.6},{"p":"b","s":"14S","x":34.60,"y":8.3},{"p":"b","s":"14S","x":34.60,"y":8.0},{"p":"b","s":"14S","x":34.60,"y":7.7},{"p":"b","s":"14S","x":34.60,"y":7.4},{"p":"b","s":"14S","x":34.61,"y":7.1},{"p":"b","s":"14S","x":34.61,"y":6.8},{"p":"b","s":"14S","x":34.61,"y":6.5},{"p":"b","s":"14S","x":34.61,"y":6.2},{"p":"b","s":"14S","x":34.61,"y":5.9},{"p":"b","s":"14S","x":34.61,"y":5.6},{"p":"b","s":"14S","x":34.62,"y":5.3},{"p":"b","s":"14S","x":34.62,"y":5.0},
  {"p":"b","s":"14S","x":34.58,"y":9.0},{"p":"b","s":"14S","x":34.58,"y":8.6},{"p":"b","s":"14S","x":34.58,"y":8.2},{"p":"b","s":"14S","x":34.58,"y":7.8},{"p":"b","s":"14S","x":34.57,"y":7.4},{"p":"b","s":"14S","x":34.57,"y":7.0},{"p":"b","s":"14S","x":34.56,"y":6.6},{"p":"b","s":"14S","x":34.56,"y":6.2},{"p":"b","s":"14S","x":34.57,"y":5.8},{"p":"b","s":"14S","x":34.57,"y":5.4},{"p":"b","s":"14S","x":34.58,"y":5.0},{"p":"b","s":"14S","x":34.70,"y":9.5},{"p":"b","s":"14S","x":34.74,"y":9.9},{"p":"b","s":"14S","x":34.78,"y":10.2},{"p":"b","s":"14S","x":34.83,"y":10.55},{"p":"b","s":"14S","x":34.88,"y":10.85},{"p":"b","s":"14S","x":34.93,"y":11.2},{"p":"b","s":"14S","x":34.98,"y":11.5}
 ]
},
"spacing": 113,
"resolve": {"scale": {"shape": "independent"}, "legend": {"shape": "independent"}},
"hconcat": [
 {
  "width": 385, "height": 397,
  "layer": [
   {"data": {"name": "icw"}, "transform": [{"filter": "datum.p == 'a'"}],
    "mark": {"type": "line", "color": "#000", "strokeWidth": 1.4},
    "encoding": {
     "x": {"field": "x", "type": "quantitative", "scale": {"domain": [34, 36], "nice": false, "zero": false}, "axis": {"title": "Salinity (PSU)", "values": [34, 34.5, 35, 35.5, 36], "format": "~g", "labelPadding": 8, "titlePadding": 8, "titleFontSize": 16}},
     "y": {"field": "y", "type": "quantitative", "scale": {"domain": [0, 30], "nice": false, "zero": false}, "axis": {"title": "Temperature (℃)", "values": [0, 5, 10, 15, 20, 25, 30], "labelPadding": 8, "titlePadding": 10, "titleFontWeight": "bold", "titleFontSize": 16}},
     "detail": {"field": "g"},
     "order": {"field": "i", "type": "quantitative"}
    }},
   {"data": {"name": "pts"}, "transform": [{"filter": "datum.p == 'a'"}],
    "mark": {"type": "point", "filled": false, "size": 38, "strokeWidth": 1.4, "color": "#000", "opacity": 1},
    "encoding": {
     "x": {"field": "x", "type": "quantitative"},
     "y": {"field": "y", "type": "quantitative"},
     "shape": {"field": "s", "type": "nominal", "scale": {"domain": ["12S", "13S", "14S", "15S"], "range": ["triangle-up", "circle", "M-0.8,-0.8L0.8,0.8M-0.8,0.8L0.8,-0.8", "square"]}, "legend": {"orient": "none", "legendX": 294, "legendY": 20}}
    }},
   {"data": {"name": "lab"}, "transform": [{"filter": "datum.p == 'a' && datum.t == '(a)'"}],
    "mark": {"type": "text", "font": "Liberation Serif", "fontSize": 21, "color": "#000"},
    "encoding": {"x": {"field": "x", "type": "quantitative"}, "y": {"field": "y", "type": "quantitative"}, "text": {"field": "t"}}},
   {"data": {"name": "lab"}, "transform": [{"filter": "datum.p == 'a' && datum.t != '(a)'"}],
    "mark": {"type": "text", "font": "Liberation Serif", "fontSize": 25, "color": "#000"},
    "encoding": {"x": {"field": "x", "type": "quantitative"}, "y": {"field": "y", "type": "quantitative"}, "text": {"field": "t"}}}
  ]
 },
 {
  "width": 379, "height": 397,
  "layer": [
   {"data": {"name": "icw"}, "transform": [{"filter": "datum.p == 'b'"}],
    "mark": {"type": "line", "color": "#000", "strokeWidth": 1.4},
    "encoding": {
     "x": {"field": "x", "type": "quantitative", "scale": {"domain": [34, 36], "nice": false, "zero": false}, "axis": {"title": "Salinity (PSU)", "values": [34, 34.5, 35, 35.5, 36], "format": "~g", "labelPadding": 8, "titlePadding": 6}},
     "y": {"field": "y", "type": "quantitative", "scale": {"domain": [0, 30], "nice": false, "zero": false}, "axis": {"title": "Temperature (℃)", "values": [0, 5, 10, 15, 20, 25, 30], "labelPadding": 8, "titlePadding": 10}},
     "detail": {"field": "g"},
     "order": {"field": "i", "type": "quantitative"}
    }},
   {"data": {"name": "pts"}, "transform": [{"filter": "datum.p == 'b'"}],
    "mark": {"type": "point", "filled": false, "size": 38, "strokeWidth": 1.4, "color": "#000", "opacity": 1},
    "encoding": {
     "x": {"field": "x", "type": "quantitative"},
     "y": {"field": "y", "type": "quantitative"},
     "shape": {"field": "s", "type": "nominal", "scale": {"domain": ["12S", "13S", "14S", "15S"], "range": ["triangle-up", "circle", "M-0.8,-0.8L0.8,0.8M-0.8,0.8L0.8,-0.8", "square"]}, "legend": {"orient": "none", "legendX": 281, "legendY": 22}}
    }},
   {"data": {"name": "lab"}, "transform": [{"filter": "datum.p == 'b' && datum.t == '(b)'"}],
    "mark": {"type": "text", "font": "Liberation Serif", "fontSize": 21, "color": "#000"},
    "encoding": {"x": {"field": "x", "type": "quantitative"}, "y": {"field": "y", "type": "quantitative"}, "text": {"field": "t"}}},
   {"data": {"name": "lab"}, "transform": [{"filter": "datum.p == 'b' && datum.t != '(b)'"}],
    "mark": {"type": "text", "font": "Liberation Serif", "fontSize": 25, "color": "#000"},
    "encoding": {"x": {"field": "x", "type": "quantitative"}, "y": {"field": "y", "type": "quantitative"}, "text": {"field": "t"}}}
  ]
 }
]
}
